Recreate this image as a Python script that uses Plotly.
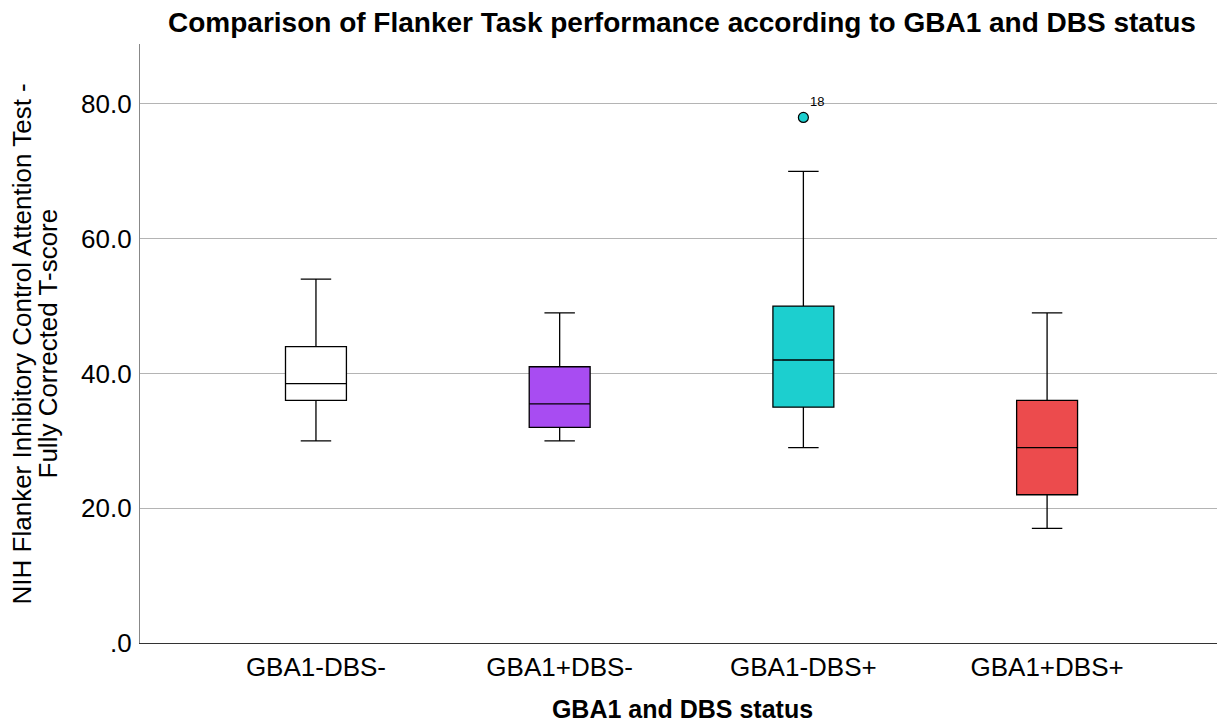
import plotly.graph_objects as go

categories = ["GBA1-DBS-", "GBA1+DBS-", "GBA1-DBS+", "GBA1+DBS+"]
lower = [30, 30, 29, 17]
q1 = [36, 32, 35, 22]
median = [38.5, 35.5, 42, 29]
q3 = [44, 41, 50, 36]
upper = [54, 49, 70, 49]
colors = ["#ffffff", "#a84cf2", "#1ccfcf", "#ec4b4d"]
outlier_cat = ["GBA1-DBS+"]
outlier_val = [78]
outlier_label = ["18"]
y_ticks = [0, 20, 40, 60, 80]
y_ticktext = [".0", "20.0", "40.0", "60.0", "80.0"]
y_title_lines = ["NIH Flanker Inhibitory Control Attention Test -", "Fully Corrected T-score"]

fig = go.Figure()
for i, c in enumerate(categories):
    fig.add_trace(go.Box(
        x=[c], q1=[q1[i]], median=[median[i]], q3=[q3[i]],
        lowerfence=[lower[i]], upperfence=[upper[i]],
        fillcolor=colors[i], line=dict(color="black", width=1.3),
        width=0.25, whiskerwidth=0.5, boxpoints=False, showlegend=False,
        hoverinfo="skip"))

fig.add_trace(go.Scatter(
    x=outlier_cat, y=outlier_val, mode="markers",
    marker=dict(color=colors[2], size=10, line=dict(color="black", width=1.2)),
    showlegend=False, hoverinfo="skip"))
for c, v, t in zip(outlier_cat, outlier_val, outlier_label):
    fig.add_annotation(x=c, y=v, text=t, showarrow=False, xshift=14, yshift=16,
                       font=dict(family="Liberation Sans, Arial", size=13, color="black"))

# two-line y-axis title with tight line spacing
for xpos, line in zip([-0.1088, -0.0848], y_title_lines):
    fig.add_annotation(xref="paper", yref="paper", x=xpos, y=0.5, text=line,
                       textangle=-90, showarrow=False, xanchor="center", yanchor="middle",
                       font=dict(family="Liberation Sans, Arial", size=26, color="black"))

fig.update_layout(
    width=1217, height=715,
    margin=dict(l=132, r=0, t=36, b=80),
    plot_bgcolor="white", paper_bgcolor="white",
    font=dict(family="Liberation Sans, Arial", color="black"),
    title=dict(text="<b>Comparison of Flanker Task performance according to GBA1 and DBS status</b>",
               x=0.5538, xanchor="center", y=0.980, yanchor="middle",
               font=dict(size=28, color="black")),
    xaxis=dict(type="category", categoryorder="array", categoryarray=categories,
               range=[-0.722, 3.73], showgrid=False, zeroline=False,
               showline=True, linecolor="#333333", linewidth=1.3,
               ticks="", tickfont=dict(size=26), ticklabelstandoff=1,
               title=dict(text="<b>GBA1 and DBS status</b>", font=dict(size=25), standoff=19)),
    yaxis=dict(range=[0, 88.9], tickvals=y_ticks, ticktext=y_ticktext,
               showgrid=True, gridcolor="#b4b4b4", gridwidth=1, zeroline=False,
               showline=True, linecolor="#888888", linewidth=1.3, ticks="",
               tickfont=dict(size=26), ticklabelstandoff=2),
)

fig.write_html("out.html")
